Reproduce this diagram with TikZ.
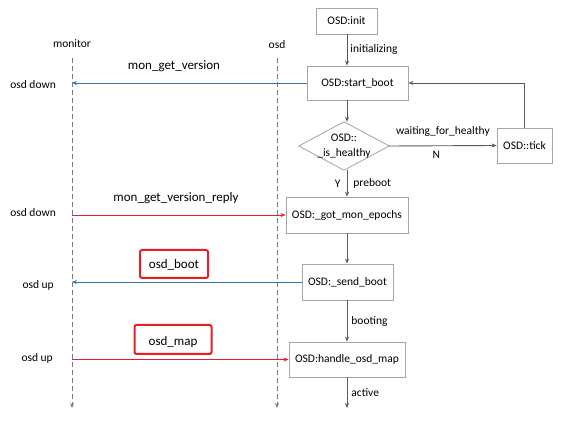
\documentclass[tikz,border=0pt]{standalone}
\usepackage{fontspec}
\setmainfont{Carlito}
\usetikzlibrary{arrows.meta,shapes.geometric}
\definecolor{msgblue}{RGB}{46,117,182}
\definecolor{msgred}{RGB}{232,30,37}
\definecolor{boxgray}{RGB}{165,165,165}
\definecolor{linegray}{RGB}{90,90,90}
\tikzset{
  sbox/.style={draw=boxgray, line width=0.8pt, fill=white, inner sep=0pt, font=\fontsize{11.5}{13}\selectfont},
  flow/.style={draw=linegray, line width=0.9pt, -{Stealth[length=5pt,width=4pt]}},
  life/.style={draw=linegray!80, line width=0.8pt, dash pattern=on 5pt off 3pt, -{Stealth[length=5pt,width=4pt]}},
  bluemsg/.style={draw=msgblue, line width=0.9pt, -{Stealth[length=5pt,width=4pt]}},
  redmsg/.style={draw=msgred, line width=0.9pt, -{Stealth[length=5pt,width=4pt]}},
  lbl/.style={font=\fontsize{11.5}{13}\selectfont, inner sep=0pt},
  msglbl/.style={font=\fontsize{13}{15}\selectfont, inner sep=0pt},
  redframe/.style={draw=msgred, line width=2pt, rounded corners=2pt, inner sep=0pt},
}
\begin{document}
\begin{tikzpicture}[x=1pt,y=-1pt]
\useasboundingbox[fill=white] (0,0) rectangle (563,427);
% lifelines
\node[lbl] (monlbl) at (72,44) {monitor};
\node[lbl] (osdlbl) at (277,45) {osd};
\coordinate (mtop) at (72,58);
\coordinate (mbot) at (72,408);
\coordinate (otop) at (277,58);
\coordinate (obot) at (277,408);
\draw[life] (mtop) -- (mbot);
\draw[life] (otop) -- (obot);
% state boxes
\node[sbox, minimum width=61pt, minimum height=26pt] (init) at (346.5,21) {OSD:init};
\node[sbox, minimum width=101pt, minimum height=34pt] (start) at (357.5,83) {OSD:start\_boot};
\node[minimum width=90pt, minimum height=48pt, inner sep=0pt] (hl) at (344,146) {};
\draw[draw=boxgray, line width=0.8pt, fill=white] (hl.north) -- (hl.east) -- (hl.south) -- (hl.west) -- cycle;
\node[lbl, align=center, font=\fontsize{11.5}{15}\selectfont] (hltext) at (344,146) {OSD::\\\_is\_healthy};
\node[sbox, minimum width=55pt, minimum height=35pt] (tick) at (524.5,145.5) {OSD::tick};
\node[sbox, minimum width=122pt, minimum height=36pt] (got) at (347,215) {OSD:\_got\_mon\_epochs};
\node[sbox, minimum width=91pt, minimum height=36pt] (send) at (347.5,282) {OSD:\_send\_boot};
\node[sbox, minimum width=116pt, minimum height=35pt] (handle) at (347,359.5) {OSD:handle\_osd\_map};
\coordinate (endpt) at (347,408);
% flow arrows
\draw[flow] (init.south -| 347,0) -- (start.north -| 347,0) node[lbl, midway, right=3pt] {initializing};
\draw[flow] (start.south -| 347,0) -- (hl.north -| 347,0);
\draw[flow] (hl.east) -- (tick.west) node[lbl, pos=0.5, above=9pt] {waiting\_for\_healthy} node[lbl, pos=0.44, below=5pt] {N};
\draw[flow] (tick.north) |- (start.east);
\draw[flow] (hl.south -| 347,0) -- (got.north -| 347,0) node[lbl, midway, left=6pt] {Y} node[lbl, midway, right=6pt] {preboot};
\draw[flow] (got.south -| 347,0) -- (send.north -| 347,0);
\draw[flow] (send.south -| 347,0) -- (handle.north -| 347,0) node[lbl, midway, right=4pt] {booting};
\draw[flow] (handle.south -| 347,0) -- (endpt) node[lbl, midway, right=4pt] {active};
% messages
\draw[bluemsg] (start.west) -- (start.west -| mtop);
\node[msglbl] (m1) at (174,66) {mon\_get\_version};
\node[lbl, anchor=east] (d1) at (56,85) {osd down};
\draw[redmsg] (got.west -| mtop) -- (got.west);
\node[msglbl] (m2) at (176,198) {mon\_get\_version\_reply};
\node[lbl, anchor=east] (d2) at (56,213) {osd down};
\draw[bluemsg] (send.west) -- (send.west -| mtop);
\node[redframe, minimum width=68pt, minimum height=28pt] (bootframe) at (174,264) {};
\node[msglbl] (m3) at (174,265) {osd\_boot};
\node[lbl, anchor=east] (u1) at (54,285) {osd up};
\draw[redmsg] (handle.west -| mtop) -- (handle.west);
\node[redframe, minimum width=77pt, minimum height=29pt] (mapframe) at (173,339.5) {};
\node[msglbl] (m4) at (173,342) {osd\_map};
\node[lbl, anchor=east] (u2) at (53,358) {osd up};
\end{tikzpicture}
\end{document}
